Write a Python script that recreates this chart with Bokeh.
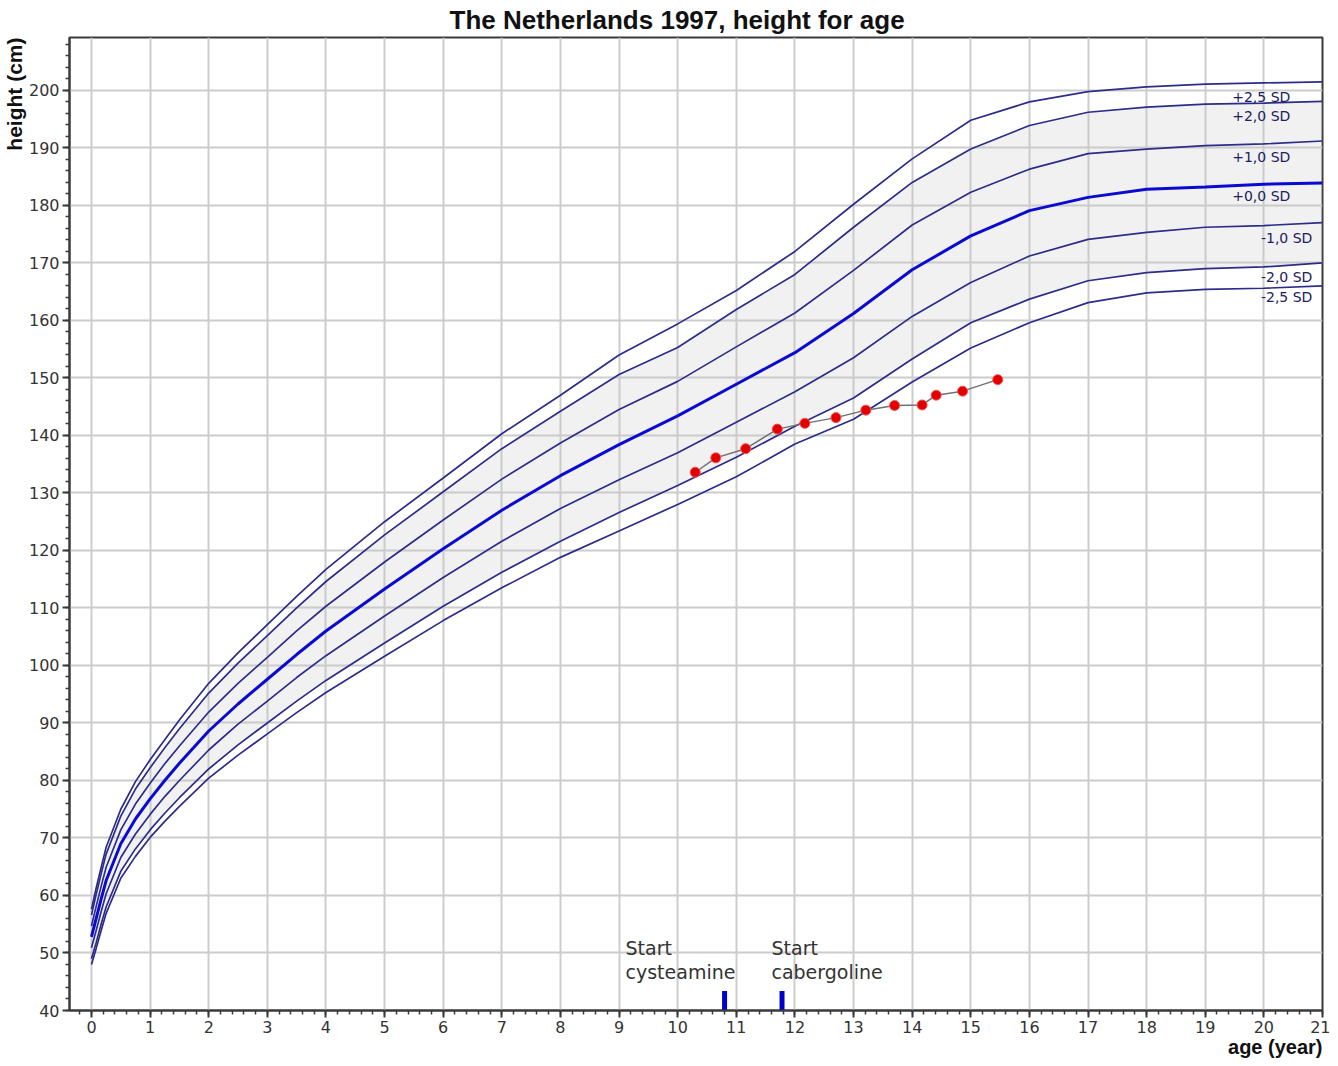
from bokeh.plotting import figure
from bokeh.models import Range1d, FixedTicker, Title, ColumnDataSource
from bokeh.core.properties import value
from bokeh.embed import file_html
from bokeh.resources import INLINE

# ---- reference curves (Dutch 1997, height for age) ----
ages = [0, 0.08, 0.17, 0.25, 0.5, 0.75, 1, 1.25, 1.5, 2, 2.5, 3, 3.5, 4, 5, 6, 7, 8,
        9, 10, 11, 12, 13, 14, 15, 16, 17, 18, 19, 20, 21]
sd_p25 = [57.6, 61.3, 65.1, 68.4, 75.0, 79.8, 83.6, 87.1, 90.5, 96.9, 102.2, 107.1, 112.0, 116.7,
          125.0, 132.6, 140.3, 147.0, 154.0, 159.4, 165.2, 172.0, 180.2, 188.1, 194.8, 198.0,
          199.8, 200.6, 201.1, 201.3, 201.5]
sd_p20 = [56.6, 60.2, 64.0, 67.2, 73.8, 78.5, 82.2, 85.7, 89.0, 95.2, 100.4, 105.2, 110.0, 114.6,
          122.7, 130.2, 137.7, 144.2, 150.6, 155.3, 161.9, 168.0, 176.2, 184.0, 189.8, 193.9,
          196.2, 197.1, 197.6, 197.8, 198.1]
sd_p10 = [54.7, 58.1, 61.8, 64.9, 71.4, 75.9, 79.5, 82.9, 86.0, 91.9, 96.9, 101.4, 106.0, 110.3,
          118.0, 125.3, 132.4, 138.7, 144.5, 149.4, 155.4, 161.3, 168.7, 176.6, 182.3, 186.3,
          189.0, 189.8, 190.4, 190.7, 191.2]
sd_00 = [52.8, 56.0, 59.6, 62.6, 69.0, 73.3, 76.8, 80.0, 83.0, 88.6, 93.3, 97.6, 101.9, 106.0,
         113.3, 120.3, 127.0, 133.0, 138.4, 143.4, 148.9, 154.4, 161.2, 168.8, 174.7, 179.1,
         181.4, 182.8, 183.2, 183.7, 183.9]
sd_m10 = [50.9, 53.9, 57.4, 60.3, 66.6, 70.7, 74.1, 77.2, 80.0, 85.3, 89.8, 93.8, 97.9, 101.7,
          108.6, 115.3, 121.6, 127.3, 132.3, 137.0, 142.3, 147.6, 153.5, 160.7, 166.6, 171.2,
          174.1, 175.3, 176.2, 176.5, 177.0]
sd_m20 = [49.0, 51.8, 55.2, 58.0, 64.2, 68.1, 71.4, 74.3, 77.0, 82.0, 86.2, 90.0, 93.8, 97.4,
          103.9, 110.3, 116.2, 121.6, 126.6, 131.3, 136.2, 141.6, 146.5, 153.3, 159.6, 163.7,
          166.9, 168.3, 169.0, 169.3, 170.0]
sd_m25 = [48.0, 50.8, 54.1, 56.9, 63.0, 66.8, 70.1, 72.9, 75.5, 80.4, 84.4, 88.1, 91.8, 95.3,
          101.6, 107.8, 113.5, 118.8, 123.4, 128.0, 132.8, 138.5, 142.8, 149.3, 155.2, 159.6,
          163.1, 164.8, 165.4, 165.6, 166.0]

sd_labels = ["+2,5 SD", "+2,0 SD", "+1,0 SD", "+0,0 SD", "-1,0 SD", "-2,0 SD", "-2,5 SD"]
sd_label_x = [19.46, 19.46, 19.46, 19.46, 19.95, 19.95, 19.95]
sd_label_y = [198.8, 195.5, 188.5, 181.6, 174.4, 167.5, 164.0]

# ---- patient measurements ----
pat_age = [10.30, 10.65, 11.16, 11.70, 12.17, 12.70, 13.21, 13.70, 14.17, 14.41, 14.86, 15.46]
pat_height = [133.6, 136.1, 137.7, 141.1, 142.1, 143.1, 144.4, 145.2, 145.3, 147.0, 147.7, 149.7]

# ---- treatment events ----
event_age = [10.80, 11.78]
event_top = [43.4, 43.4]
event_text = ["Start\ncysteamine", "Start\ncabergoline"]
event_text_x = [9.11, 11.60]
event_text_y = [52.8, 52.8]

x_major = list(range(0, 22))
y_major = list(range(40, 201, 10))

p = figure(frame_width=1253, frame_height=973, output_backend="svg", toolbar_location=None,
           x_range=Range1d(-0.375, 21.0), y_range=Range1d(40, 209.2),
           min_border_left=0, min_border_right=8, min_border_top=0, min_border_bottom=0)

p.title.text = "The Netherlands 1997, height for age"
p.title.align = "left"
p.title.offset = 380
p.title.text_font = "Liberation Sans"
p.title.text_font_size = "26px"
p.title.text_font_style = "bold"
p.title.text_color = "#111111"
p.title.standoff = 5

p.background_fill_color = "white"
p.border_fill_color = "white"
p.outline_line_color = "#3a3a3a"
p.outline_line_width = 2

# shaded band between -2 and +2 SD
p.varea(x=ages, y1=sd_m20, y2=sd_p20, fill_color="#c8c8c8", fill_alpha=0.25)

curve_color = "#2c2c8a"
for ys in [sd_p25, sd_p20, sd_p10, sd_m10, sd_m20, sd_m25]:
    p.line(ages, ys, line_color=curve_color, line_width=1.7)
p.line(ages, sd_00, line_color="#0a0ad0", line_width=3)

src_lab = ColumnDataSource(dict(x=sd_label_x, y=sd_label_y, t=sd_labels))
p.text(x="x", y="y", text="t", source=src_lab, text_font=value("DejaVu Sans"),
       text_font_size="14px", text_color="#202060", text_align="left", text_baseline="middle")

# patient data
p.line(pat_age, pat_height, line_color="#707070", line_width=1.5)
p.scatter(pat_age, pat_height, size=10, fill_color="#e00000", line_color="#ff5050", line_width=1)

# event markers
p.vbar(x=event_age, width=0.085, bottom=40, top=event_top, fill_color="#0000cc", line_color=None)
src_ev = ColumnDataSource(dict(x=event_text_x, y=event_text_y, t=event_text))
p.text(x="x", y="y", text="t", source=src_ev, text_font=value("DejaVu Sans"),
       text_font_size="19px", text_color="#333333", text_align="left", text_baseline="top",
       text_line_height=1.1)

# axes
for ax in [p.xaxis[0], p.yaxis[0]]:
    ax.axis_line_color = "#3a3a3a"
    ax.axis_line_width = 2
    ax.major_tick_line_color = "#3a3a3a"
    ax.major_tick_line_width = 2
    ax.minor_tick_line_color = "#3a3a3a"
    ax.minor_tick_line_width = 1.5
    ax.major_tick_in = 0
    ax.minor_tick_in = 0
    ax.major_tick_out = 7
    ax.minor_tick_out = 4
    ax.major_label_text_font = "DejaVu Sans"
    ax.major_label_text_font_size = "16px"
    ax.major_label_text_color = "#333333"
    ax.major_label_standoff = 3

p.xaxis.ticker = FixedTicker(ticks=x_major, minor_ticks=[round(-0.2 + 0.2 * i, 2) for i in range(107)])
p.yaxis.ticker = FixedTicker(ticks=y_major, minor_ticks=list(range(40, 210, 2)))

p.xgrid.grid_line_color = "#cccccc"
p.ygrid.grid_line_color = "#cccccc"
p.xgrid.grid_line_width = 2
p.ygrid.grid_line_width = 2

p.add_layout(Title(text="height (cm)", align="right", text_font="Liberation Sans",
                   text_font_size="21px", text_font_style="bold", text_color="#111111",
                   standoff=0), "left")
p.add_layout(Title(text="age (year)", align="right", text_font="Liberation Sans",
                   text_font_size="20px", text_font_style="bold", text_color="#111111",
                   standoff=0, vertical_align="top"), "below")

open("out.html", "w").write(file_html(p, INLINE))
